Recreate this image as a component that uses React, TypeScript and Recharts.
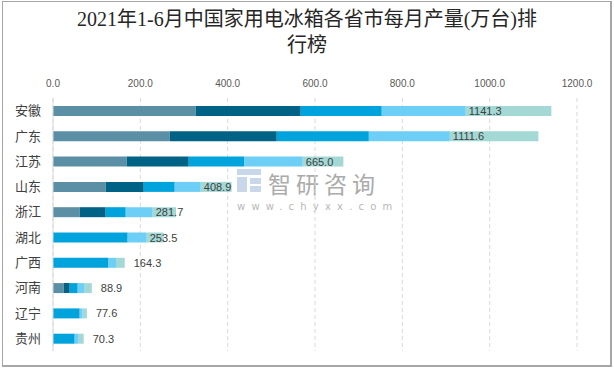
import { BarChart, Bar, XAxis, YAxis, CartesianGrid, LabelList } from 'recharts';

document.body.style.margin = '0';

const provinces = ['安徽', '广东', '江苏', '山东', '浙江', '湖北', '广西', '河南', '辽宁', '贵州'];
const totals = [1141.3, 1111.6, 665.0, 408.9, 281.7, 253.5, 164.3, 88.9, 77.6, 70.3];
const m12 = [327.0, 267.4, 168.8, 120.7, 61.2, 0, 0, 24.5, 0, 0];
const m3 = [240.4, 245.1, 142.1, 87.1, 59.5, 0, 0, 13.8, 0, 0];
const m4 = [185.5, 210.8, 127.6, 71.0, 45.9, 171.0, 126.0, 18.3, 61.2, 49.7];
const m5 = [192.4, 185.5, 133.5, 59.6, 61.8, 43.7, 20.0, 16.0, 6.8, 9.2];
const m6 = [196.0, 202.8, 93.0, 70.5, 53.3, 38.8, 18.3, 16.3, 9.6, 11.4];
const xTicks = [0, 200, 400, 600, 800, 1000, 1200];

const colors = ['#5b8fa6', '#006285', '#00a3dc', '#6dcff6', '#a3d8d5'];

const data = provinces.map((name, i) => ({
  name,
  m12: m12[i],
  m3: m3[i],
  m4: m4[i],
  m5: m5[i],
  m6: m6[i],
  total: totals[i],
}));

// total goes on the last segment; pushed past the bar end when that segment is thin
const TotalLabel = (props: any) => {
  const { x, y, width, height, index } = props;
  const lx = width > 15 ? x + 3 : x + width + 9;
  return (
    <text
      x={lx}
      y={y + height / 2}
      dy={4}
      fontSize={11}
      fontFamily="'Liberation Sans', Arial, sans-serif"
      fill="#404040"
      textAnchor="start"
    >
      {totals[index].toFixed(1)}
    </text>
  );
};

export default function App() {
  return (
    <div style={{ position: 'relative', width: 614, height: 369, background: '#fff' }}>
      <div
        style={{
          position: 'absolute', left: 2, top: 1, width: 607, height: 363,
          border: '1px solid #a6a6a6', borderRightWidth: 2, borderBottomWidth: 2,
        }}
      />
      <div
        style={{
          position: 'absolute', left: 0, top: 6, width: 614, textAlign: 'center',
          fontFamily: "'Liberation Serif', 'Noto Sans CJK SC', serif",
          fontSize: 20, lineHeight: '26px', color: '#262626',
        }}
      >
        2021年1-6月中国家用电冰箱各省市每月产量(万台)排<br />行榜
      </div>

      {/* watermark */}
      <div style={{ position: 'absolute', left: 237, top: 169, width: 24, height: 23 }}>
        <div style={{ position: 'absolute', left: 0, top: 0, width: 24, height: 6, background: '#c9d7ea' }} />
        <div style={{ position: 'absolute', left: 0, top: 8, width: 10, height: 15, background: '#c9d7ea' }} />
        <div style={{ position: 'absolute', left: 13, top: 9, width: 11, height: 6, background: '#c9d7ea' }} />
        <div style={{ position: 'absolute', left: 13, top: 17, width: 11, height: 6, background: '#c9d7ea' }} />
      </div>
      <div
        style={{
          position: 'absolute', left: 268, top: 172, fontSize: 23, letterSpacing: 5,
          fontFamily: "'Noto Sans CJK SC', sans-serif", color: '#ababab', lineHeight: '23px',
        }}
      >
        智研咨询
      </div>
      <div
        style={{
          position: 'absolute', left: 237, top: 201, fontSize: 10, letterSpacing: 6.2,
          lineHeight: '11px', fontFamily: "'DejaVu Sans', sans-serif", color: '#b8b8b8',
        }}
      >
        www.chyxx.com
      </div>

      <div style={{ position: 'absolute', left: 0, top: 0 }}>
        <BarChart
          width={614}
          height={369}
          data={data}
          layout="vertical"
          margin={{ top: 68, right: 37, bottom: 18, left: 0 }}
          barSize={10}
        >
          <CartesianGrid horizontal={false} stroke="#d9d9d9" strokeDasharray="4 3" />
          <XAxis
            type="number"
            orientation="top"
            domain={[0, 1200]}
            ticks={xTicks}
            height={30}
            axisLine={false}
            tickLine={false}
            tickMargin={5}
            tickFormatter={(v: number) => v.toFixed(1)}
            tick={{ fontSize: 10, fill: '#595959', fontFamily: "'Liberation Sans', Arial, sans-serif" }}
          />
          <YAxis
            type="category"
            dataKey="name"
            width={53}
            axisLine={{ stroke: '#d9d9d9' }}
            tickLine={false}
            tickMargin={6}
            tick={{ fontSize: 13, fill: '#404040', fontFamily: "'Noto Sans CJK SC', sans-serif" }}
          />
          <Bar dataKey="m12" name="1-2月" stackId="a" fill={colors[0]} isAnimationActive={false} />
          <Bar dataKey="m3" name="3月" stackId="a" fill={colors[1]} isAnimationActive={false} />
          <Bar dataKey="m4" name="4月" stackId="a" fill={colors[2]} isAnimationActive={false} />
          <Bar dataKey="m5" name="5月" stackId="a" fill={colors[3]} isAnimationActive={false} />
          <Bar dataKey="m6" name="6月" stackId="a" fill={colors[4]} isAnimationActive={false}>
            <LabelList dataKey="total" content={TotalLabel} />
          </Bar>
        </BarChart>
      </div>
    </div>
  );
}
